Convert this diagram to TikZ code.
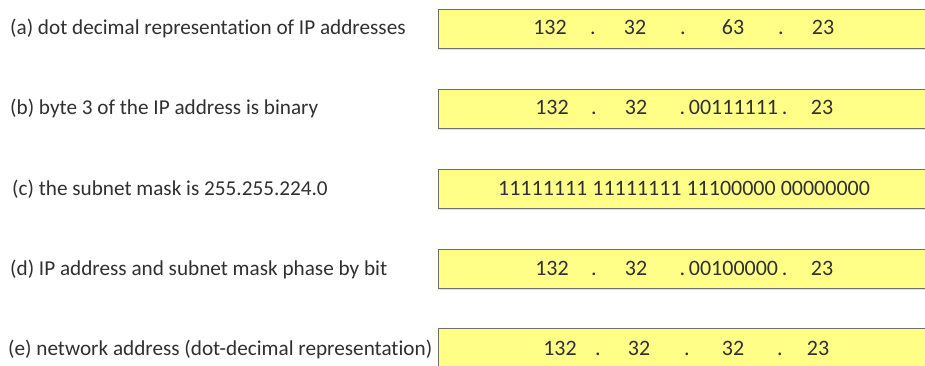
\documentclass[tikz,border=0pt]{standalone}
\usepackage{fontspec}
\setmainfont[Ligatures=NoCommon]{Carlito}
\usetikzlibrary{shadows}
\definecolor{boxfill}{HTML}{FFFF88}
\definecolor{boxline}{HTML}{6E6E6E}
\definecolor{txt}{HTML}{303030}
\tikzset{
  ipbox/.style={draw=boxline, line width=1.3pt, fill=boxfill, rectangle,
    minimum height=39pt, minimum width=500pt, anchor=north west, inner sep=0pt,
    drop shadow={shadow xshift=1pt, shadow yshift=-1.5pt, opacity=.25}},
  lab/.style={anchor=base west, inner sep=0pt, text=txt, font=\fontsize{21.2}{24}\selectfont},
  tok/.style={anchor=base, inner sep=0pt, text=txt, font=\fontsize{22}{25}\selectfont}
}
\begin{document}
\begin{tikzpicture}[x=1pt,y=-1pt]
\useasboundingbox (0,0) rectangle (925,366);
% address boxes, running off the right edge
\node[ipbox] (boxa) at (437.5,9) {};
\node[ipbox] (boxb) at (437.5,89) {};
\node[ipbox] (boxc) at (437.5,169) {};
\node[ipbox] (boxd) at (437.5,249) {};
\node[ipbox] (boxe) at (437.5,328) {};
% row labels (positions are baselines)
\node[lab] (laba) at (10,35) {(a) dot decimal representation of IP addresses};
\node[lab] (labb) at (10,115) {(b) byte 3 of the IP address is binary};
\node[lab] (labc) at (12,195) {(c) the subnet mask is 255.255.224.0};
\node[lab] (labd) at (10,275) {(d) IP address and subnet mask phase by bit};
\node[lab] (labe) at (8,355) {(e) network address (dot-decimal representation)};
% (a)
\node[tok] (a1) at (550,35) {132};
\node[tok] (ad1) at (593,35) {.};
\node[tok] (a2) at (635,35) {32};
\node[tok] (ad2) at (683,35) {.};
\node[tok] (a3) at (733,35) {63};
\node[tok] (ad3) at (781,35) {.};
\node[tok] (a4) at (823,35) {23};
% (b)
\node[tok] (b1) at (552,115) {132};
\node[tok] (bd1) at (594,115) {.};
\node[tok] (b2) at (636,115) {32};
\node[tok] (b3) at (733.5,115) {.\,00111111\,.};
\node[tok] (b4) at (822,115) {23};
% (c)
\node[tok] (c1) at (684,195) {11111111 11111111 11100000 00000000};
% (d)
\node[tok] (d1) at (552,275) {132};
\node[tok] (dd1) at (594,275) {.};
\node[tok] (d2) at (636,275) {32};
\node[tok] (d3) at (733.5,275) {.\,00100000\,.};
\node[tok] (d4) at (822,275) {23};
% (e)
\node[tok] (e1) at (560,355) {132};
\node[tok] (ed1) at (598,355) {.};
\node[tok] (e2) at (639,355) {32};
\node[tok] (ed2) at (687,355) {.};
\node[tok] (e3) at (733,355) {32};
\node[tok] (ed3) at (780,355) {.};
\node[tok] (e4) at (818,355) {23};
\end{tikzpicture}
\end{document}
